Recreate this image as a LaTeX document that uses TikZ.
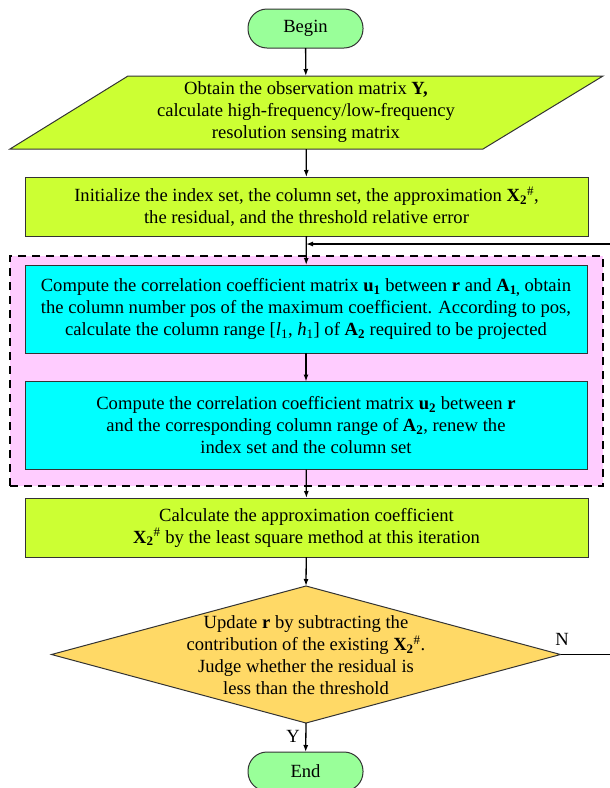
\documentclass[tikz,border=0pt]{standalone}
\usepackage{fontspec}
\setmainfont{Liberation Serif}
\usetikzlibrary{shapes.geometric, arrows.meta}

\definecolor{stepgreen}{RGB}{204,255,51}
\definecolor{termgreen}{RGB}{153,255,153}
\definecolor{loopcyan}{RGB}{0,255,255}
\definecolor{looppink}{RGB}{255,204,255}
\definecolor{checkorange}{RGB}{255,217,102}

\newcommand{\bsub}[2]{\textbf{#1}\textsubscript{\textbf{#2}}}
\newcommand{\xsharp}{\textbf{X}\textsubscript{\textbf{2}}\textsuperscript{\#}}

\begin{document}
\begin{tikzpicture}[x=1pt,y=-1pt,
    font=\fontsize{18.6}{22}\selectfont,
    every node/.style={inner sep=0pt,outer sep=0pt},
    terminal/.style={draw=black!80,fill=termgreen,rounded corners=19pt,
      minimum width=115pt,minimum height=39pt,line width=1pt},
    process/.style={draw=black!80,fill=stepgreen,minimum width=563pt,
      minimum height=59pt,align=center,line width=1pt},
    inner/.style={draw=black!80,fill=loopcyan,minimum width=562pt,
      minimum height=88pt,align=center,line width=1pt},
    loopframe/.style={draw=black,fill=looppink,dash pattern=on 8pt off 6pt,
      line width=2pt,minimum width=593pt,minimum height=230pt},
    decision/.style={diamond,draw=black!80,fill=checkorange,
      minimum width=509pt,minimum height=137pt,line width=1pt},
    flow/.style={-{Latex[length=7pt,width=5pt]},line width=1.3pt}]

      \useasboundingbox (0,0) rectangle (610,788);

      % start
      \node[terminal] (begin) at (305.5,28.5) {Begin};

      % input
      \filldraw[draw=black!80,fill=stepgreen,line width=1pt]
      (128,76) -- (603,76) -- (483,149) -- (10,149) -- cycle;
      \node[minimum width=473pt,minimum height=73pt,align=center]
      (obtain) at (306,112.5)
      {Obtain the observation matrix \textbf{Y,}\\
        calculate high-frequency/low-frequency\\
        resolution sensing matrix};

      \node[process] (init) at (306.5,206.5)
      {Initialize the index set, the column set, the approximation \xsharp,\\
        the residual, and the threshold relative error};

      % loop body
      \node[loopframe] (loopbox) at (306.5,371) {};

      \node[inner] (corr1) at (306,309)
      {Compute the correlation coefficient matrix \bsub{u}{1} between
        \textbf{r} and \bsub{A}{1,} obtain\\
        the column number pos of the maximum coefficient. According to pos,\\
        calculate the column range [\textit{l}\textsubscript{1},
        \textit{h}\textsubscript{1}] of \bsub{A}{2} required to be projected};

      \node[inner] (corr2) at (306,425.5)
      {Compute the correlation coefficient matrix \bsub{u}{2} between
        \textbf{r}\\
        and the corresponding column range of \bsub{A}{2}, renew the\\
        index set and the column set};

      \node[process] (calc) at (306.5,527.5)
      {Calculate the approximation coefficient\\
        \xsharp{} by the least square method at this iteration};

      % stop test
      \node[decision] (check) at (306,654.5) {};
      \node[align=center] (checktxt) at (306,655)
      {Update \textbf{r} by subtracting the\\
        contribution of the existing \xsharp.\\
        Judge whether the residual is\\
        less than the threshold};

      \node[terminal] (end) at (305.5,771.5) {End};

      \coordinate (loopin) at (306,244);

      % arrows
      \draw[flow] (begin) -- (obtain);
      \draw[flow] (obtain) -- (init);
      \draw[flow] (init) -- (corr1);
      \draw[flow] (corr1) -- (corr2);
      \draw[flow] (corr2) -- (calc);
      \draw[flow] (calc) -- (check.north);
      \draw[flow] (check.south) -- (end)
      node[pos=0.45,left=6pt] (ylab) {Y};
      \draw[flow] (check.east) -- ++(70,0) |- (loopin);
      \node (nlab) at (562,639) {N};
\end{tikzpicture}
\end{document}
